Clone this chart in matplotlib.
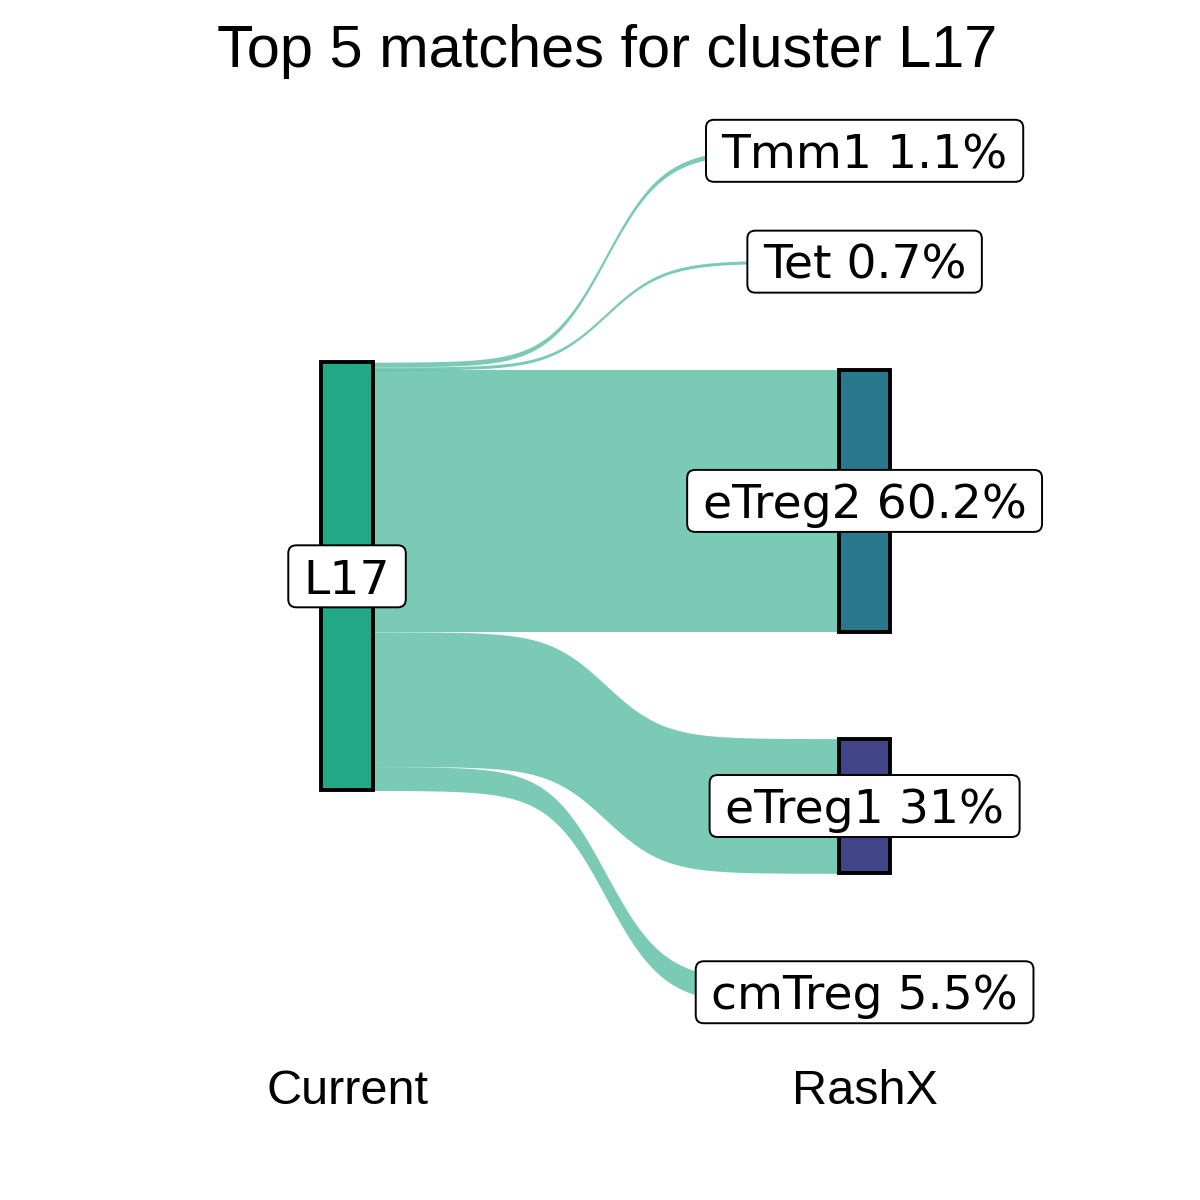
import numpy as np
import matplotlib
matplotlib.use('Agg')
import matplotlib.pyplot as plt
from matplotlib.patches import Rectangle, FancyBboxPatch
from matplotlib.transforms import offset_copy, IdentityTransform

# data
source = "L17"
targets = ["Tmm1", "Tet", "eTreg2", "eTreg1", "cmTreg"]
pct = [1.1, 0.7, 60.2, 31.0, 5.5]
axis_names = ["Current", "RashX"]
title = "Top 5 matches for cluster L17"

node_col = {"L17": "#22A884", "eTreg2": "#2A788E", "eTreg1": "#414487",
            "cmTreg": "#440154", "Tet": "#7AD151", "Tmm1": "#FDE725"}

# layout
gap = 24.6        # space between nodes on the right axis
nw = 0.1          # node width
smooth = 8
lab_font = ['DejaVu Sans']
txt_font = ['Liberation Sans', 'Arial', 'DejaVu Sans']

fig = plt.figure(figsize=(12, 12), dpi=100)
ax = fig.add_axes([0, 0, 1, 1])
ax.set_xlim(0.3295, 2.648)
ax.set_ylim(-143.5, 132.6)
ax.axis('off')

total = sum(pct)
l_top = total / 2
r_top = (total + gap * (len(pct) - 1)) / 2


def sigmoid(x0, x1, y0, y1, n=300):
    t = np.linspace(-smooth, smooth, n)
    s = np.exp(t) / (np.exp(t) + 1)
    return (t + smooth) / (2 * smooth) * (x1 - x0) + x0, s * (y1 - y0) + y0


# flows and right nodes
lt = l_top
rt = r_top
r_centers = []
for name, p in zip(targets, pct):
    xs, ytop = sigmoid(1 + nw / 2, 2 - nw / 2, lt, rt)
    _, ybot = sigmoid(1 + nw / 2, 2 - nw / 2, lt - p, rt - p)
    ax.fill_between(xs, ybot, ytop, color=node_col[source], alpha=0.6,
                    lw=0, zorder=1)
    ax.add_patch(Rectangle((2 - nw / 2, rt - p), nw, p, facecolor=node_col[name],
                           edgecolor='black', lw=2.8, zorder=2))
    r_centers.append(rt - p / 2)
    lt -= p
    rt -= p + gap

# left node
ax.add_patch(Rectangle((1 - nw / 2, -l_top), nw, total, facecolor=node_col[source],
                       edgecolor='black', lw=2.8, zorder=2))

# labels
fs = 34
cap_off = 0.729 * fs * 100 / 72 / 2
tr = offset_copy(ax.transData, fig=fig, y=-cap_off, units='dots')
labels = [(1, 0, source)]
for name, p, yc in zip(targets, pct, r_centers):
    labels.append((2, yc, "%s %g%%" % (name, p)))

texts = []
for x, y, s in labels:
    t = ax.text(x, y, s, transform=tr, ha='center', va='baseline', fontsize=fs,
                family=lab_font, zorder=4)
    texts.append((x, y, t))

fig.canvas.draw()
for x, y, t in texts:
    bb = t.get_window_extent()
    cx, cy = ax.transData.transform((x, y))
    w = bb.width + 31
    h = 62
    box = FancyBboxPatch((cx - w / 2, cy - h / 2), w, h,
                         boxstyle="round,pad=0,rounding_size=8",
                         facecolor='white', edgecolor='black', lw=1.4,
                         transform=IdentityTransform(), zorder=3)
    ax.add_patch(box)

# axis names
for i, nm in enumerate(axis_names):
    ax.text(i + 1, 1 - 1104 / 1200, nm, transform=ax.get_xaxis_transform(),
            ha='center', va='baseline', fontsize=35, family=txt_font)

fig.text(607 / 1200, 1 - 66.7 / 1200, title, ha='center', va='baseline',
         fontsize=42.8, family=txt_font)

plt.savefig('out.png', dpi=100)
